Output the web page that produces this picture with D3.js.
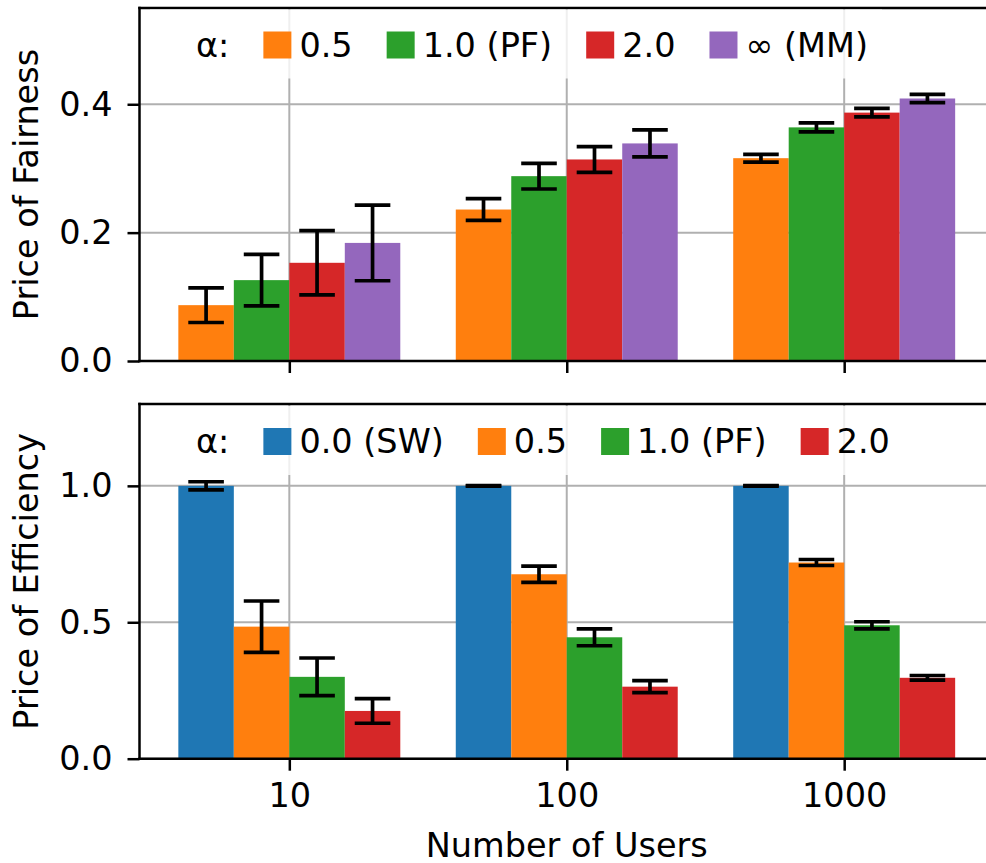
<!DOCTYPE html>
<html>
<head>
<meta charset="utf-8">
<script src="https://cdn.jsdelivr.net/npm/d3@7"></script>
<style>
  html, body { margin: 0; padding: 0; background: #fff; }
  svg { display: block; font-family: "DejaVu Sans", sans-serif; }
</style>
</head>
<body>
<svg id="chart" width="986" height="863"></svg>
<script>
// Group labels on the shared x axis
const categories = ["10", "100", "1000"];

// Price of Fairness: mean and error half-width per group (rows) and alpha (columns)
const fairSeries = ["0.5", "1.0 (PF)", "2.0", "∞ (MM)"];
const fairMeans = [
  [0.087, 0.126, 0.153, 0.184],
  [0.236, 0.288, 0.314, 0.339],
  [0.316, 0.364, 0.387, 0.409]
];
const fairErrors = [
  [0.027, 0.040, 0.050, 0.059],
  [0.017, 0.020, 0.020, 0.021],
  [0.006, 0.007, 0.0065, 0.0065]
];
const fairTicks = [0.0, 0.2, 0.4];

// Price of Efficiency
const effSeries = ["0.0 (SW)", "0.5", "1.0 (PF)", "2.0"];
const effMeans = [
  [1.0, 0.484, 0.300, 0.175],
  [1.0, 0.676, 0.445, 0.264],
  [1.0, 0.719, 0.489, 0.2965]
];
const effErrors = [
  [0.015, 0.094, 0.069, 0.045],
  [0.001, 0.030, 0.031, 0.022],
  [0.001, 0.011, 0.013, 0.0085]
];
const effTicks = [0.0, 0.5, 1.0];

const legendTitle = "α:";
const xLabel = "Number of Users";

// ---- styling ----
const tab = { blue: "#1f77b4", orange: "#ff7f0e", green: "#2ca02c", red: "#d62728", purple: "#9467bd" };
const fairColors = [tab.orange, tab.green, tab.red, tab.purple];
const effColors = [tab.blue, tab.orange, tab.green, tab.red];
const FONT = 33.5;
const gridColor = "#b0b0b0";

const svg = d3.select("#chart");

// shared x scale (categorical positions 0,1,2 with matplotlib-style margins)
const x = d3.scaleLinear().domain([-0.54, 2.54]).range([139.5, 994]);
const barW = 0.2;
const offset = (j, n) => (j - (n - 1) / 2) * barW;

function panel(opts) {
  const { top, bottom, ymax, means, errors, colors, ticks, tickFmt, ylabel, labels, showXLabels, legendY } = opts;
  const y = d3.scaleLinear().domain([0, ymax]).range([bottom, top]);
  const g = svg.append("g");

  // grid
  g.append("g").selectAll("line.hg").data(ticks).join("line")
    .attr("x1", x.range()[0]).attr("x2", x.range()[1])
    .attr("y1", d => y(d)).attr("y2", d => y(d))
    .attr("stroke", gridColor).attr("stroke-width", 2);
  g.append("g").selectAll("line.vg").data(categories).join("line")
    .attr("x1", (d, i) => x(i)).attr("x2", (d, i) => x(i))
    .attr("y1", top).attr("y2", bottom)
    .attr("stroke", gridColor).attr("stroke-width", 2);

  // bars
  const n = colors.length;
  const cells = [];
  means.forEach((row, i) => row.forEach((v, j) => cells.push({ i, j, v, e: errors[i][j] })));
  g.append("g").selectAll("rect").data(cells).join("rect")
    .attr("x", d => x(d.i + offset(d.j, n) - barW / 2))
    .attr("width", d => x(barW) - x(0))
    .attr("y", d => y(d.v))
    .attr("height", d => y(0) - y(d.v))
    .attr("fill", d => colors[d.j]);

  // error bars
  const capHalf = 17.8;
  const eb = g.append("g").attr("stroke", "#000").attr("stroke-width", 3.7).attr("fill", "none");
  eb.selectAll("line.stem").data(cells).join("line")
    .attr("x1", d => x(d.i + offset(d.j, n))).attr("x2", d => x(d.i + offset(d.j, n)))
    .attr("y1", d => y(d.v - d.e)).attr("y2", d => y(d.v + d.e));
  ["lo", "hi"].forEach(k => {
    eb.selectAll("line.cap" + k).data(cells).join("line")
      .attr("x1", d => x(d.i + offset(d.j, n)) - capHalf)
      .attr("x2", d => x(d.i + offset(d.j, n)) + capHalf)
      .attr("y1", d => y(k === "lo" ? d.v - d.e : d.v + d.e))
      .attr("y2", d => y(k === "lo" ? d.v - d.e : d.v + d.e));
  });

  // axes
  const yAxis = d3.axisLeft(y).tickValues(ticks).tickFormat(tickFmt).tickSize(12).tickPadding(15);
  const ya = g.append("g").attr("transform", `translate(${x.range()[0]},0)`).call(yAxis);
  const xAxis = d3.axisBottom(x).tickValues(categories.map((c, i) => i))
    .tickFormat(showXLabels ? (d => categories[d]) : () => "").tickSize(12).tickPadding(12.5);
  const xa = g.append("g").attr("transform", `translate(0,${bottom})`).call(xAxis);
  [ya, xa].forEach(a => {
    a.select(".domain").remove();
    a.selectAll(".tick line").attr("stroke", "#000").attr("stroke-width", 2.5);
    a.selectAll(".tick text").attr("fill", "#000").style("font-size", FONT + "px")
      .style("font-family", "'DejaVu Sans', sans-serif");
  });

  // spines (left, top, bottom)
  const sp = g.append("g").attr("stroke", "#000").attr("stroke-width", 2.5).attr("stroke-linecap", "square");
  sp.append("line").attr("x1", x.range()[0]).attr("x2", x.range()[0]).attr("y1", top).attr("y2", bottom);
  sp.append("line").attr("x1", x.range()[0]).attr("x2", x.range()[1]).attr("y1", top).attr("y2", top);
  sp.append("line").attr("x1", x.range()[0]).attr("x2", x.range()[1]).attr("y1", bottom).attr("y2", bottom);

  // y label
  g.append("text")
    .attr("transform", `translate(38,${(top + bottom) / 2}) rotate(-90)`)
    .attr("text-anchor", "middle").style("font-size", FONT + "px").text(ylabel);

  // legend (single row, title entry first)
  const lg = g.append("g");
  const frame = lg.append("rect").attr("fill", "#fff").attr("fill-opacity", 0.8);
  const items = lg.append("g");
  const baseline = legendY;
  const pH = 27, pW = 28, textGap = 8, colGap = 34;
  let cx = 196;
  const t0 = items.append("text").attr("x", cx).attr("y", baseline)
    .style("font-size", FONT + "px").text(legendTitle);
  cx += t0.node().getComputedTextLength() + colGap;
  labels.forEach((lab, j) => {
    items.append("rect").attr("x", cx).attr("y", baseline - pH + 2).attr("width", pW).attr("height", pH)
      .attr("fill", colors[j]);
    const t = items.append("text").attr("x", cx + pW + textGap).attr("y", baseline)
      .style("font-size", FONT + "px").text(lab);
    cx += pW + textGap + t.node().getComputedTextLength() + colGap;
  });
  frame.attr("x", 150).attr("y", baseline - 47).attr("width", cx - colGap + 14 - 150).attr("height", 69);
}

panel({
  top: 8, bottom: 361, ymax: 0.55,
  means: fairMeans, errors: fairErrors, colors: fairColors,
  ticks: fairTicks, tickFmt: d3.format(".1f"), ylabel: "Price of Fairness",
  labels: fairSeries, showXLabels: false, legendY: 56.5
});

panel({
  top: 404, bottom: 758.7, ymax: 1.3,
  means: effMeans, errors: effErrors, colors: effColors,
  ticks: effTicks, tickFmt: d3.format(".1f"), ylabel: "Price of Efficiency",
  labels: effSeries, showXLabels: true, legendY: 453
});

svg.append("text").attr("x", x(1)).attr("y", 856.5).attr("text-anchor", "middle")
  .style("font-size", FONT + "px").text(xLabel);
</script>
</body>
</html>
